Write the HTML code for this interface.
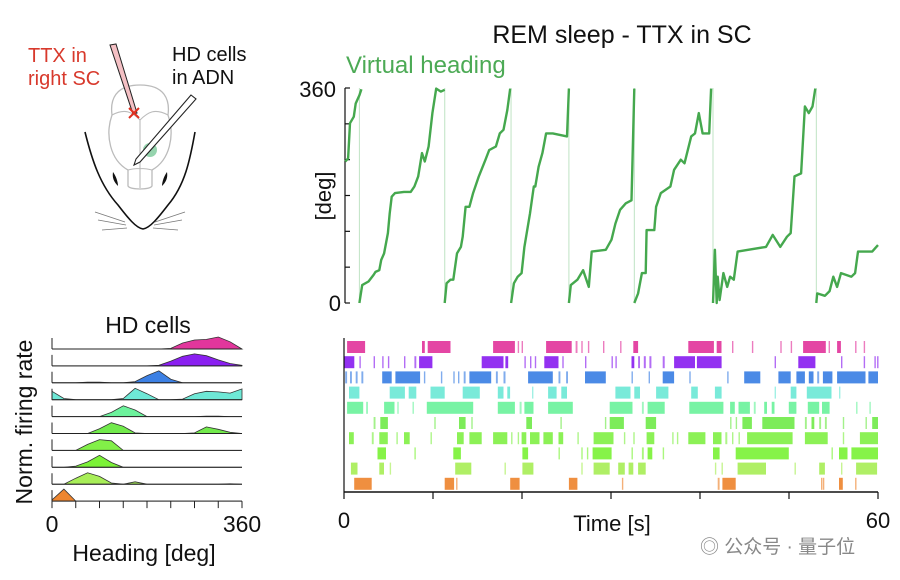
<!DOCTYPE html>
<html><head><meta charset="utf-8">
<style>
html,body{margin:0;padding:0;background:#fff;}
svg{display:block;font-family:"Liberation Sans",Arial,sans-serif;}
</style></head>
<body>
<svg id="fig" width="900" height="580" viewBox="0 0 900 580" xmlns="http://www.w3.org/2000/svg">
  <g>
    <text x="28" y="62" font-size="20" fill="#d8392c">TTX in</text>
    <text x="28" y="85" font-size="20" fill="#d8392c">right SC</text>
    <text x="172" y="61" font-size="20" fill="#111">HD cells</text>
    <text x="172" y="84" font-size="20" fill="#111">in ADN</text>
    <path d="M85,132 C92,160 100,185 118,205 C128,218 136,228 143,229 C150,228 158,218 168,205 C185,185 190,160 195,132" fill="none" stroke="#111" stroke-width="1.6"/>
    <path d="M140,85 C115,85 110,100 112,115 C105,135 110,160 128,170 L128,186 C130,190 150,190 152,186 L152,170 C170,160 175,135 168,115 C170,100 165,85 140,85 Z" fill="none" stroke="#bbb" stroke-width="1.3"/>
    <path d="M112,115 C125,108 132,112 140,120 C148,112 155,108 168,115 M140,120 L140,188 M128,170 C135,168 145,168 152,170" fill="none" stroke="#bbb" stroke-width="1.1"/>
    <path d="M113,172 C116,176 118,182 118,186 C114,182 112,178 113,172 Z" fill="#111"/>
    <path d="M167,172 C164,176 162,182 162,186 C166,182 168,178 167,172 Z" fill="#111"/>
    <path d="M95,212 L125,222 M98,220 L126,225 M102,230 L127,228 M185,212 L155,222 M182,220 L154,225 M178,230 L153,228" stroke="#777" stroke-width="0.8"/>
    <circle cx="150" cy="150" r="7" fill="#7cc99a" opacity="0.8"/>
    <polygon points="110,45 116,44 137,113 133,114" fill="#f4c0c4" stroke="#222" stroke-width="1"/>
    <path d="M129,108 L139,118 M139,108 L129,118" stroke="#e03020" stroke-width="2"/>
    <polygon points="191,95 196,99 140,162 134,165 136,159" fill="#fff" stroke="#222" stroke-width="1.1"/>
  </g>

  <text x="622" y="43" font-size="25" text-anchor="middle" fill="#111">REM sleep - TTX in SC</text>
  <text x="346" y="73" font-size="24" fill="#4caa55">Virtual heading</text>
  <text x="336" y="97" font-size="22" text-anchor="end" fill="#111">360</text>
  <text x="341" y="311" font-size="22" text-anchor="end" fill="#111">0</text>
  <text transform="translate(331,196) rotate(-90)" font-size="22" text-anchor="middle" fill="#111">[deg]</text>

  <g id="heading-plot"></g>
  <g id="raster"></g>
  <text x="344" y="528" font-size="22" text-anchor="middle" fill="#111">0</text>
  <text x="878" y="528" font-size="22" text-anchor="middle" fill="#111">60</text>
  <text x="612" y="531" font-size="22" text-anchor="middle" fill="#111">Time [s]</text>

  <text x="148" y="333" font-size="23" text-anchor="middle" fill="#111">HD cells</text>
  <g id="ridges"></g>
  <text transform="translate(32,422) rotate(-90)" font-size="23" text-anchor="middle" fill="#111">Norm. firing rate</text>
  <text x="52" y="532" font-size="23" text-anchor="middle" fill="#111">0</text>
  <text x="242" y="532" font-size="23" text-anchor="middle" fill="#111">360</text>
  <text x="144" y="561" font-size="23" text-anchor="middle" fill="#111">Heading [deg]</text>

  <text x="700" y="553" font-size="19" fill="#888" font-family="'Liberation Sans','Noto Sans CJK SC',sans-serif">◎ 公众号 · 量子位</text>
</svg>
<script>
// ---------- Heading data (segments of [time s, heading deg]) ----------
const seg1 = [[0.14,237],[0.46,242],[0.67,301],[1.1,312],[1.31,334],[1.73,348],[1.95,358]];
const seg2 = [[1.73,0],[2.05,30],[2.75,36],[3.33,47],[3.54,52],[3.97,55],[4.18,72],[4.5,83],[4.93,117],[5.14,150],[5.36,178],[5.73,184],[6.74,186],[7.49,186],[7.91,195],[8.34,212],[8.76,251],[9.08,237],[9.51,262],[9.93,318],[10.36,359],[10.89,354],[11.32,357]];
const seg3 = [[11.32,0],[11.53,33],[11.96,39],[12.28,39],[12.7,83],[13.13,94],[13.34,111],[13.66,161],[14.09,161],[14.51,184],[15.15,212],[15.9,240],[16.32,256],[17.07,262],[17.5,284],[17.92,290],[18.35,323],[18.67,359]];
const seg4 = [[18.77,0],[19.09,33],[19.52,44],[19.95,50],[20.27,94],[20.9,150],[21.33,195],[21.49,195],[21.86,228],[22.29,251],[22.71,284],[23.09,284],[23.46,284],[25.06,279],[25.27,359]];
const seg5 = [[25.27,0],[25.48,30],[26.23,39],[26.87,55],[27.51,27],[27.83,86],[29.42,89],[30.06,106],[30.49,133],[31.02,156],[31.66,167],[32.3,172],[32.62,359]];
const seg6 = [[32.62,0],[33.05,16],[33.47,50],[33.9,50],[34.0,122],[34.86,122],[35.07,161],[35.6,184],[36.67,195],[37.09,223],[37.84,240],[38.26,234],[39.01,279],[39.44,284],[39.86,318],[40.29,284],[41.03,284],[41.25,359]];
const seg7 = [[41.46,0],[41.67,89],[41.88,0],[41.99,44],[42.2,5],[42.63,50],[43.06,27],[43.38,44],[43.8,39],[44.23,86],[45.4,89],[47.42,94],[48.17,114],[49.02,94],[49.77,111],[50.19,117],[50.62,212],[51.36,217],[51.79,329],[52.22,318],[52.64,329],[52.96,359]];
const seg8 = [[53.07,0],[53.17,16],[54.03,12],[54.56,20],[54.98,44],[55.41,27],[55.84,50],[57.01,44],[57.43,50],[57.75,86],[59.35,86],[59.7,92],[60.0,97]];
const headingSegments = [seg1,seg2,seg3,seg4,seg5,seg6,seg7,seg8];
const headingTicks = [0,60,120,180,240,300,360];
const timeTicks = [0,10,20,30,40,50,60];

// ---------- Raster data: [start,end] seconds per row ----------
const rowPink   = [[0.35,2.37],[8.76,9.08],[9.4,11.96],[16.75,19.2],[19.52,19.63],[19.95,20.05],[22.71,25.59],[26.02,26.23],[26.66,26.76],[27.4,27.51],[29.1,29.21],[31.02,31.13],[32.51,33.05],[38.69,41.57],[41.88,42.42],[43.59,43.7],[45.83,45.93],[49.02,49.13],[50.19,50.3],[51.58,54.13],[54.45,54.56],[55.41,55.84],[57.43,57.54],[58.39,58.5]];
const rowPurple = [[0.03,1.15],[1.73,1.84],[3.33,3.44],[4.29,4.4],[4.93,5.04],[6.74,6.85],[7.91,8.12],[8.44,9.93],[15.47,17.92],[18.14,18.45],[20.27,20.37],[20.9,21.01],[21.44,21.54],[22.5,24.1],[24.53,24.63],[27.08,27.19],[30.06,30.17],[30.49,30.6],[32.3,32.62],[33.05,33.26],[33.68,33.9],[34.32,34.54],[35.81,36.03],[37.09,39.44],[39.65,42.42],[48.38,48.49],[51.04,52.96],[55.84,55.94],[58.39,58.5],[59.6,59.7],[59.9,60.0]];
const rowBlue   = [[0.14,0.35],[0.67,0.88],[1.31,1.52],[1.95,2.16],[4.29,5.36],[5.78,8.55],[8.98,9.08],[10.89,11.0],[12.28,12.38],[12.81,12.92],[13.45,13.66],[14.09,16.54],[17.07,17.28],[17.92,18.14],[20.69,23.46],[24.1,24.31],[24.95,25.16],[27.08,29.42],[32.3,32.41],[34.22,34.32],[35.81,37.09],[38.8,38.9],[43.06,43.16],[44.97,46.78],[48.81,50.19],[50.83,51.79],[52.22,52.75],[53.17,53.39],[53.81,54.88],[55.41,58.6],[58.92,60.0]];
const rowCyan   = [[0.56,1.73],[5.14,6.85],[7.27,8.12],[9.72,11.32],[13.34,15.26],[17.28,17.92],[18.35,18.67],[21.12,21.22],[22.93,23.89],[24.42,25.06],[30.49,32.19],[32.62,33.26],[35.07,36.45],[39.01,39.75],[41.67,42.42],[48.38,48.49],[50.19,50.83],[52.0,54.77],[55.62,55.73]];
const rowMint   = [[0.35,2.16],[2.48,2.69],[4.5,5.67],[5.99,6.1],[7.7,7.8],[9.3,14.51],[17.28,19.2],[19.73,19.95],[20.27,21.29],[22.93,25.7],[29.85,32.41],[33.47,33.68],[34.11,36.03],[38.8,42.63],[43.38,43.91],[44.33,45.61],[46.04,46.25],[47.21,47.53],[48.06,48.38],[49.98,50.83],[52.11,53.39],[53.71,54.56],[57.54,57.65],[59.03,59.14]];
const rowGreen1 = [[3.33,3.54],[4.08,4.93],[10.15,10.25],[12.92,13.66],[14.3,14.41],[20.48,21.12],[24.31,24.42],[29.32,29.42],[29.85,31.45],[33.9,35.07],[43.38,43.48],[44.01,44.12],[44.76,45.83],[47.0,50.62],[51.79,52.0],[52.53,52.85],[53.39,53.6],[54.03,54.24],[56.05,56.16],[58.6,58.71],[59.35,60.0]];
const rowGreen2 = [[0.56,1.1],[3.12,3.33],[3.97,4.93],[5.89,5.99],[6.74,7.38],[9.72,9.83],[12.7,13.45],[14.09,15.47],[16.75,18.35],[18.77,18.88],[19.52,19.63],[19.95,20.48],[20.9,21.97],[22.4,23.46],[24.1,24.63],[26.23,26.34],[28.04,30.28],[31.45,31.55],[32.51,32.62],[34.0,34.86],[36.88,36.99],[37.41,37.52],[38.69,40.61],[41.46,42.42],[42.84,43.06],[43.59,43.7],[44.33,44.44],[45.29,50.4],[51.79,54.35],[56.05,56.16],[57.97,60.0]];
const rowGreen3 = [[3.76,4.72],[7.91,8.02],[12.28,13.13],[20.05,20.69],[24.1,24.21],[26.66,26.76],[27.29,27.4],[27.93,30.06],[32.3,32.41],[33.47,33.68],[34.11,34.64],[35.81,35.92],[41.46,42.2],[44.01,49.98],[54.77,54.88],[55.62,56.58],[57.01,60.0]];
const rowYellow = [[0.78,1.52],[3.97,4.5],[5.14,5.25],[12.49,14.3],[18.03,18.14],[20.05,21.29],[26.66,26.76],[28.04,29.85],[30.81,31.55],[31.98,32.51],[33.05,33.9],[41.67,41.78],[42.42,42.52],[44.23,47.42],[50.62,50.72],[53.39,54.03],[55.84,55.94],[57.54,59.9]];
const rowOrange = [[1.15,3.12],[11.32,12.38],[12.6,12.7],[18.67,19.73],[25.27,26.23],[31.23,31.34],[41.99,42.2],[42.52,44.01],[53.6,53.71],[53.81,53.92],[55.62,56.05],[57.43,57.54]];
const rasterRows = [rowPink,rowPurple,rowBlue,rowCyan,rowMint,rowGreen1,rowGreen2,rowGreen3,rowYellow,rowOrange];
const rowColors = ["#e2369c","#8a1ff0","#3c80e4","#6ee8d6","#6cf29c","#72ea4c","#82f048","#7cf238","#a8ee58","#ee8630"];

// ---------- Tuning curves (heading bins 0..360 step 22.5) ----------
const tuningBins = [0,22.5,45,67.5,90,112.5,135,157.5,180,202.5,225,247.5,270,292.5,315,337.5,360];
const tune1  = [0,0,0,0,0,0,0,0,0,0,0.05,0.5,0.75,0.8,1.0,0.6,0];
const tune2  = [0,0,0,0,0,0,0,0,0,0.05,0.4,0.8,1.0,0.85,0.5,0.2,0.05];
const tune3  = [0,0,0,0.05,0.05,0,0,0.1,0.6,1.0,0.3,0,0,0,0,0,0];
const tune4  = [0.7,0.1,0,0,0,0,0.1,0.95,0.5,0,0,0.05,0.5,0.7,0.65,0.55,0.9];
const tune5  = [0,0,0,0,0,0.35,0.9,0.55,0,0,0,0,0,0.03,0.03,0,0];
const tune6  = [0,0,0,0,0.4,0.9,0.6,0.05,0,0,0,0,0.05,0.55,0.35,0.1,0];
const tune7  = [0,0,0,0.5,0.9,0.8,0,0,0,0,0,0,0,0,0,0,0];
const tune8  = [0,0,0.1,0.45,1.0,0.4,0,0,0,0,0,0,0,0,0,0,0];
const tune9  = [0,0,0.5,0.95,0.65,0.1,0,0.2,0,0,0,0,0,0,0,0.03,0];
const tune10 = [0.1,1.0,0,0,0,0,0,0,0,0,0,0,0,0,0,0,0];
const tuningCurves = [tune1,tune2,tune3,tune4,tune5,tune6,tune7,tune8,tune9,tune10];

const NS = "http://www.w3.org/2000/svg";
function mk(tag, attrs, parent){ const e=document.createElementNS(NS,tag); for(const k in attrs) e.setAttribute(k,attrs[k]); parent.appendChild(e); return e; }

const tx = t => 344 + t/60*534;
const hy = d => 303 - d/360*215;

const hp = document.getElementById('heading-plot');
const yax = mk('line',{x1:345,y1:88,x2:345,y2:303,stroke:'#111','stroke-width':1.2},hp);


headingTicks.forEach(v=>{
  const tk = mk('line',{x1:345,y1:hy(v),x2:350,y2:hy(v),stroke:'#111','stroke-width':1.2},hp);
  
  
});
headingSegments.forEach((s,i)=>{
  if(i>0){
    const g = mk('line',{x1:tx(s[0][0]),y1:hy(360),x2:tx(s[0][0]),y2:hy(0),stroke:'#bfe3c4','stroke-width':1},hp);
    
    
  }
});
headingSegments.forEach(s=>{
  const p = mk('polyline',{points:s.map(q=>tx(q[0]).toFixed(1)+','+hy(q[1]).toFixed(1)).join(' '),fill:'none',stroke:'#45a84e','stroke-width':2.4,'stroke-linejoin':'round'},hp);
  
  
});

const rs = document.getElementById('raster');
const rowY0 = 341, rowH = 15.2;
rasterRows.forEach((row,i)=>{
  row.forEach(b=>{
    const x1 = tx(b[0]), x2 = Math.max(tx(b[1]), x1+1.4);
    const r = mk('rect',{x:x1.toFixed(1),y:(rowY0+i*rowH).toFixed(1),width:(x2-x1).toFixed(1),height:12,fill:rowColors[i],opacity:(b[1]-b[0]>0.3?0.92:0.65)},rs);
    
    
  });
});
const rya = mk('line',{x1:344,y1:338,x2:344,y2:492,stroke:'#111','stroke-width':1.2},rs);


const rxa = mk('line',{x1:344,y1:492,x2:878,y2:492,stroke:'#111','stroke-width':1.4},rs);


timeTicks.forEach(t=>{
  const tk = mk('line',{x1:tx(t),y1:492,x2:tx(t),y2:499,stroke:'#111','stroke-width':1.2},rs);
  
  
});

const rg = document.getElementById('ridges');
const ax = d => 52 + d/360*190;
const base0 = 349, rstep = 16.9, amp = 12;
tuningCurves.forEach((c,i)=>{
  const b = base0 + i*rstep;
  let d = 'M'+ax(0)+','+b;
  c.forEach((v,k)=>{ d += ' L'+ax(tuningBins[k]).toFixed(1)+','+(b - v*amp).toFixed(1); });
  d += ' L'+ax(360)+','+b+' Z';
  const p = mk('path',{d:d,fill:rowColors[i],stroke:'#333','stroke-width':0.8},rg);
  
  
  const bl = mk('line',{x1:52,y1:b,x2:242,y2:b,stroke:'#222','stroke-width':1},rg);
  
  
  const lt = mk('line',{x1:52,y1:b-11,x2:52,y2:b,stroke:'#222','stroke-width':1},rg);
  
  
});
for(let k=0;k<=8;k++){
  const tk = mk('line',{x1:ax(k*45),y1:base0+9*rstep,x2:ax(k*45),y2:base0+9*rstep+7,stroke:'#222','stroke-width':1},rg);
  
  
}
</script>
</body></html>
